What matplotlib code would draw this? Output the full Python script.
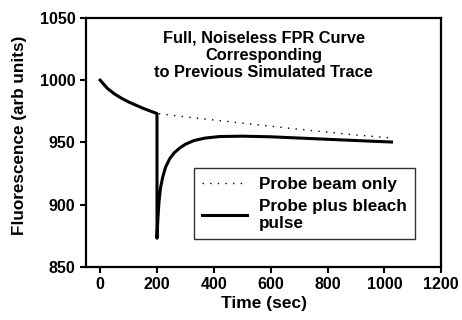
import numpy as np
from matplotlib import pyplot as plt

plt.rcParams['font.family'] = ['Liberation Sans', 'DejaVu Sans']
plt.rcParams['font.weight'] = 'bold'

# probe beam only (photobleaching from probe beam alone)
t_probe = [0, 25, 50, 75, 100, 125, 150, 175, 200, 300, 400, 500, 600, 700, 800, 900, 1025]
f_probe = [1000, 993.5, 989, 985.5, 982.5, 980, 977.5, 975.3, 973.2,
           970.5, 968, 965.5, 963, 960.5, 958.2, 956, 953.5]

# probe plus bleach pulse
t_bleach = [0, 25, 50, 75, 100, 125, 150, 175, 200, 200, 203, 207, 212, 220, 230,
            245, 260, 280, 300, 330, 370, 420, 500, 600, 700, 800, 900, 1025]
f_bleach = [1000, 993.5, 989, 985.5, 982.5, 980, 977.5, 975.3, 973.2, 873, 888, 902, 913,
            922, 930, 937, 941.5, 945.5, 948.5, 951.5, 953.5, 954.7, 955, 954.5,
            953.5, 952.5, 951.5, 950.3]


def data_plot():
    fig = plt.figure(figsize=(4.62, 3.2), dpi=100)
    ax = fig.add_axes([0.186, 0.166, 0.769, 0.778])

    ax.plot(t_probe, f_probe, color='black', linestyle=(0, (1, 4.5)), linewidth=1,
            label='Probe beam only')
    ax.plot(t_bleach, f_bleach, color='black', linewidth=2.2,
            label='Probe plus bleach\npulse')

    ax.set_xlim(-50, 1200)
    ax.set_ylim(850, 1050)
    ax.set_xticks(np.arange(0, 1201, 200))
    ax.set_yticks(np.arange(850, 1051, 50))
    ax.tick_params(direction='out', length=4, width=1.5, labelsize=11.5)
    for s in ax.spines.values():
        s.set_linewidth(1.6)

    ax.set_xlabel('Time (sec)', fontsize=12.5, fontweight='bold', labelpad=3)
    ax.set_ylabel('Fluorescence (arb units)', fontsize=12.3, fontweight='bold')
    ax.yaxis.set_label_coords(-0.165, 0.53)

    ax.text(0.5, 0.95, 'Full, Noiseless FPR Curve\nCorresponding\nto Previous Simulated Trace',
            transform=ax.transAxes, ha='center', va='top', fontsize=11.8,
            fontweight='bold', linespacing=1.2)

    leg = ax.legend(loc='lower right', bbox_to_anchor=(0.926, 0.11), fontsize=12.3,
                    frameon=True, fancybox=False, edgecolor='black',
                    handlelength=2.6, handletextpad=0.7, borderpad=0.5,
                    labelspacing=0.4, borderaxespad=0)
    leg.get_frame().set_linewidth(1)

    fig.savefig('out.png', dpi=100)


if __name__ == '__main__':
    data_plot()
